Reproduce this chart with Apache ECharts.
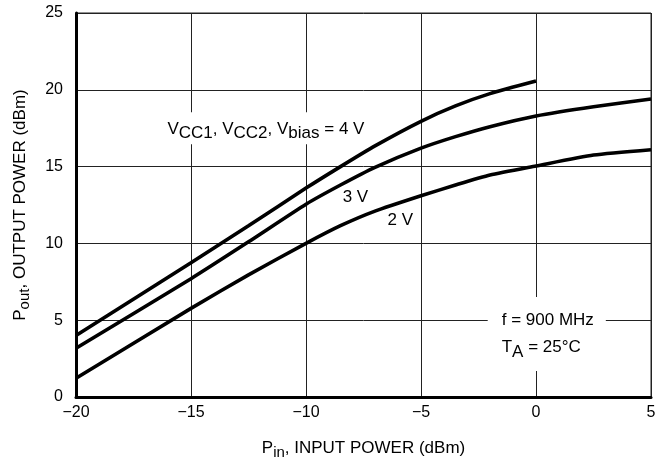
<!DOCTYPE html>
<html>
<head>
<meta charset="utf-8">
<script src="https://cdn.jsdelivr.net/npm/echarts@6/dist/echarts.min.js"></script>
<style>
  html, body { margin: 0; padding: 0; background: #fff; }
  #chart { width: 666px; height: 460px; }
</style>
</head>
<body>
<div id="chart"></div>
<script>
// input power (dBm)
const pin4 = [-20, -15, -12.5, -10, -8.5, -7, -5, -3.5, -2, 0];
const pinAll = [-20, -15, -12.5, -10, -8.5, -7, -5, -3.5, -2, 0, 2.5, 5];

// output power (dBm) per supply voltage
const pout4V = [4.0, 8.74, 11.15, 13.6, 15.0, 16.35, 17.95, 18.95, 19.75, 20.57];
const pout3V = [3.17, 7.7, 10.1, 12.55, 13.8, 14.95, 16.2, 16.95, 17.6, 18.3, 18.9, 19.4];
const pout2V = [1.22, 5.77, 7.95, 10.0, 11.15, 12.1, 13.1, 13.8, 14.45, 15.04, 15.75, 16.1];

const FONT = '"Liberation Sans", Arial, sans-serif';

const zip = (xs, ys) => xs.map((x, i) => [x, ys[i]]);
const minusFmt = v => (v < 0 ? '\u2212' + Math.abs(v) : String(v));

const chart = echarts.init(document.getElementById('chart'));

const lineSeries = (name, data) => ({
    name: name,
    type: 'line',
    data: data,
    smooth: 0.2,
    symbol: 'none',
    lineStyle: { color: '#000', width: 3.6 },
    z: 5
});

const titleRich = {
    b: { fontSize: 17, fontFamily: FONT, color: '#000' },
    s: { fontSize: 15, fontFamily: FONT, color: '#000', padding: [8, 0, 0, 0] }
};

chart.setOption({
    animation: false,
    backgroundColor: '#fff',
    grid: {
        left: 76, right: 15, top: 13, bottom: 63,
        outerBoundsMode: 'none',
        show: true, borderColor: '#222', borderWidth: 1
    },
    xAxis: {
        type: 'value',
        min: -20, max: 5, interval: 5,
        axisLine: { show: true, onZero: false, lineStyle: { color: '#000', width: 3 } },
        axisTick: { show: false },
        splitLine: { show: true, lineStyle: { color: '#222', width: 1 } },
        axisLabel: { color: '#000', fontSize: 16, fontFamily: FONT, margin: 8, formatter: minusFmt },
        name: '{b|P}{s|in}{b|, INPUT POWER (dBm)}',
        nameLocation: 'middle',
        nameGap: 40,
        nameTextStyle: { rich: titleRich }
    },
    yAxis: {
        type: 'value',
        min: 0, max: 25, interval: 5,
        axisLine: { show: true, onZero: false, lineStyle: { color: '#000', width: 3 } },
        axisTick: { show: false },
        splitLine: { show: true, lineStyle: { color: '#222', width: 1 } },
        axisLabel: { color: '#000', fontSize: 16, fontFamily: FONT, margin: 13 },
        name: '{b|P}{s|out}{b|, OUTPUT POWER (dBm)}',
        nameLocation: 'middle',
        nameGap: 44,
        nameTextStyle: { rich: titleRich }
    },
    series: [
        lineSeries('4 V', zip(pin4, pout4V)),
        lineSeries('3 V', zip(pinAll, pout3V)),
        lineSeries('2 V', zip(pinAll, pout2V))
    ]
});

// annotations placed in data coordinates
const at = (x, y) => chart.convertToPixel({ gridIndex: 0 }, [x, y]);
const rich = {
    b: { fontSize: 17, fontFamily: FONT, color: '#000' },
    s: { fontSize: 17, fontFamily: FONT, color: '#000', padding: [9, 0, 0, 0] }
};
const p1 = at(-16.2, 17.5);
const p2 = at(-7.85, 13.0);
const p3 = at(-5.9, 11.5);
const p4 = at(-2.1, 4.1);

chart.setOption({
    graphic: [
        {
            type: 'text', x: p1[0], y: p1[1], z: 10,
            style: {
                text: '{b|V}{s|CC1}{b|, V}{s|CC2}{b|, V}{s|bias}{b| = 4 V}',
                rich: rich, backgroundColor: '#fff', padding: [4, 4, 2, 4],
                verticalAlign: 'middle'
            }
        },
        {
            type: 'text', x: p2[0], y: p2[1], z: 10,
            style: { text: '3 V', font: '17px ' + FONT, fill: '#000', align: 'center', verticalAlign: 'middle' }
        },
        {
            type: 'text', x: p3[0], y: p3[1], z: 10,
            style: { text: '2 V', font: '17px ' + FONT, fill: '#000', align: 'center', verticalAlign: 'middle' }
        },
        {
            type: 'text', x: p4[0], y: p4[1], z: 10,
            style: {
                text: '{b|f = 900 MHz}\n{b|T}{s|A}{b| = 25\u00b0C}',
                rich: rich, backgroundColor: '#fff', padding: [10, 12, 10, 14],
                verticalAlign: 'middle', lineHeight: 27
            }
        }
    ]
});
</script>
</body>
</html>
